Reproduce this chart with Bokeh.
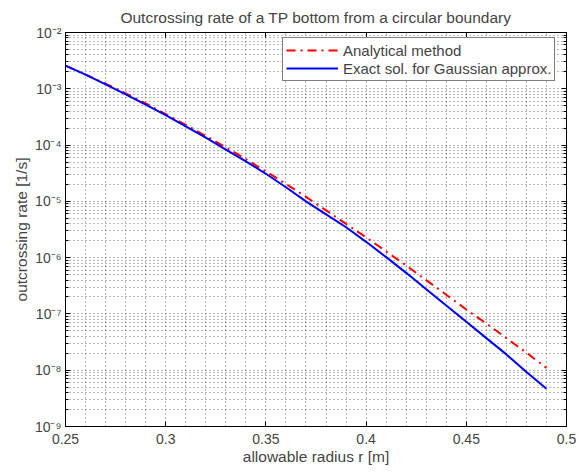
import numpy as np
from bokeh.plotting import figure
from bokeh.models import (FixedTicker, CustomJSTickFormatter, LogAxis, LinearAxis,
                          Legend, LegendItem, Range1d, CustomLabelingPolicy)
from bokeh.embed import file_html
from bokeh.resources import INLINE

# ---- data ----
r = [0.25, 0.26, 0.27, 0.28, 0.29, 0.30, 0.31, 0.32, 0.33, 0.34, 0.35, 0.36, 0.37,
     0.38, 0.39, 0.40, 0.41, 0.42, 0.43, 0.44, 0.45, 0.46, 0.47, 0.48, 0.49]
analytical = [2.57e-3, 1.78e-3, 1.23e-3, 8.32e-4, 5.50e-4, 3.55e-4, 2.29e-4, 1.45e-4,
              9.12e-5, 5.62e-5, 3.39e-5, 2.04e-5, 1.20e-5, 6.92e-6, 3.98e-6, 2.29e-6,
              1.29e-6, 7.24e-7, 3.98e-7, 2.19e-7, 1.20e-7, 6.76e-8, 3.72e-8, 2.04e-8,
              1.10e-8]
exact_gauss = [2.57e-3, 1.78e-3, 1.20e-3, 7.94e-4, 5.25e-4, 3.39e-4, 2.14e-4, 1.35e-4,
               8.32e-5, 5.13e-5, 3.09e-5, 1.78e-5, 1.00e-5, 5.89e-6, 3.47e-6, 1.91e-6,
               1.02e-6, 5.37e-7, 2.75e-7, 1.41e-7, 7.24e-8, 3.72e-8, 1.91e-8, 9.33e-9,
               4.68e-9]
x_ticks = [0.25, 0.3, 0.35, 0.4, 0.45, 0.5]
x_minor = [0.26, 0.27, 0.28, 0.29, 0.31, 0.32, 0.33, 0.34, 0.36, 0.37, 0.38, 0.39,
           0.41, 0.42, 0.43, 0.44, 0.46, 0.47, 0.48, 0.49]
y_exponents = [-9, -8, -7, -6, -5, -4, -3, -2]

y_ticks = [10.0 ** e for e in y_exponents]
y_minor = [m * 10.0 ** e for e in y_exponents[:-1] for m in range(2, 10)]

FONT = "Liberation Sans"

p = figure(width=579, height=472, y_axis_type="log",
           x_range=Range1d(0.25, 0.5), y_range=Range1d(1e-9, 1e-2),
           output_backend="svg", toolbar_location=None,
           min_border_left=65, min_border_right=13, min_border_top=32, min_border_bottom=46)

p.title.text = "Outcrossing rate of a TP bottom from a circular boundary"
p.title.align = "center"
p.title.text_font = FONT
p.title.text_font_size = "15.5px"
p.title.text_font_style = "normal"
p.title.standoff = 6

p.outline_line_color = "black"
p.outline_line_width = 1
p.background_fill_color = "white"
p.border_fill_color = "white"

xt = FixedTicker(ticks=x_ticks, minor_ticks=x_minor)
yt = FixedTicker(ticks=y_ticks, minor_ticks=y_minor)

xfmt = CustomJSTickFormatter(code="""
let s = tick.toFixed(2);
if (s.endsWith('0')) s = s.slice(0, -1);
return s;
""")
yfmt = CustomJSTickFormatter(code="""
const e = Math.round(Math.log10(tick));
const sup = {'-':'\\u207b','0':'\\u2070','1':'\\u00b9','2':'\\u00b2','3':'\\u00b3','4':'\\u2074',
             '5':'\\u2075','6':'\\u2076','7':'\\u2077','8':'\\u2078','9':'\\u2079'};
return '10' + String(e).split('').map(c => sup[c]).join('');
""")

for ax in p.xaxis:
    ax.ticker = xt
    ax.formatter = xfmt
    ax.axis_label = "allowable radius r [m]"
    ax.major_label_standoff = 7
    ax.axis_label_standoff = 1
for ax in p.yaxis:
    ax.ticker = yt
    ax.formatter = yfmt
    ax.axis_label = "outcrossing rate [1/s]"
    ax.major_label_standoff = 4
    ax.axis_label_standoff = 2

for ax in list(p.xaxis) + list(p.yaxis):
    ax.major_tick_in = 5
    ax.major_tick_out = 0
    ax.minor_tick_in = 3
    ax.minor_tick_out = 0
    ax.axis_line_color = "black"
    ax.major_tick_line_color = "black"
    ax.minor_tick_line_color = "black"
    ax.major_label_text_font = FONT
    ax.major_label_text_font_size = "14px"
    ax.axis_label_text_font = FONT
    ax.axis_label_text_font_size = "15.5px"
    ax.axis_label_text_font_style = "normal"
for ax in p.xaxis:
    ax.minor_tick_in = 0

# box ticks on top and right (no labels)
top = LinearAxis(ticker=xt, major_tick_in=5, major_tick_out=0, minor_tick_in=0,
                 minor_tick_out=0, major_label_text_font_size="1px", major_label_standoff=0,
                 major_label_policy=CustomLabelingPolicy(code="return new Set()"))
right = LogAxis(ticker=yt, major_tick_in=5, major_tick_out=0, minor_tick_in=3,
                minor_tick_out=0, major_label_text_font_size="1px", major_label_standoff=0,
                major_label_policy=CustomLabelingPolicy(code="return new Set()"))
p.add_layout(top, "above")
p.add_layout(right, "right")

p.xgrid.ticker = xt
p.ygrid.ticker = yt
for g in list(p.xgrid) + list(p.ygrid):
    g.grid_line_color = "black"
    g.grid_line_alpha = 0.55
    g.grid_line_dash = "1 3"
    g.grid_line_width = 1
    g.minor_grid_line_color = "black"
    g.minor_grid_line_alpha = 0.55
    g.minor_grid_line_dash = "1 3"
    g.minor_grid_line_width = 1

r1 = p.line(r, analytical, line_color="#ff0000", line_width=2, line_dash="9 5 2 5")
r2 = p.line(r, exact_gauss, line_color="#0000ff", line_width=2)

legend = Legend(items=[LegendItem(label="Analytical method", renderers=[r1]),
                       LegendItem(label="Exact sol. for Gaussian approx.", renderers=[r2])],
                location=(217, 345))
legend.label_text_font = FONT
legend.label_text_font_size = "15px"
legend.border_line_color = "black"
legend.border_line_width = 1
legend.background_fill_alpha = 1
legend.glyph_width = 52
legend.label_standoff = 5
legend.padding = 3
legend.spacing = 0
legend.label_height = 18
legend.glyph_height = 18
legend.margin = 0
p.add_layout(legend, "center")

open("out.html", "w").write(file_html(p, INLINE))
